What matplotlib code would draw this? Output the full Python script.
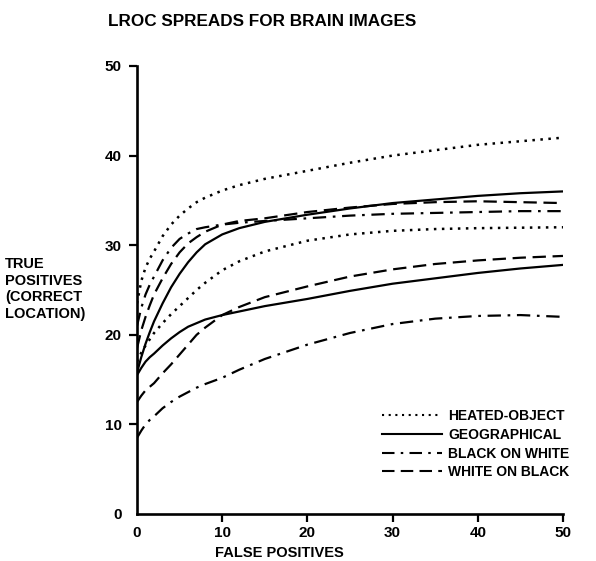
import matplotlib
matplotlib.use("Agg")
import matplotlib.pyplot as plt
from matplotlib.lines import Line2D

plt.rcParams['font.family'] = ['Liberation Sans', 'DejaVu Sans']
plt.rcParams['font.weight'] = 'bold'

fp = [0, 0.5, 1, 1.5, 2, 3, 4, 5, 6, 7, 8, 10, 12, 15, 20, 25, 30, 35, 40, 45, 50]

# true positives, upper and lower edge of each spread
heated_hi = [23.5, 26, 27.5, 28.5, 29.3, 31, 32.3, 33.3, 34.1, 34.8, 35.3, 36.1, 36.7, 37.4,
             38.3, 39.2, 40.0, 40.6, 41.2, 41.6, 42.0]
heated_lo = [17, 18, 18.8, 19.5, 20.2, 21.3, 22.3, 23.2, 24.1, 25, 25.8, 27.2, 28.2, 29.3,
             30.5, 31.2, 31.6, 31.8, 31.9, 31.95, 32.0]
geo_hi = [15.8, 17.5, 19, 20.3, 21.5, 23.5, 25.3, 26.8, 28.1, 29.2, 30.1, 31.2, 31.9, 32.6,
          33.4, 34.1, 34.7, 35.1, 35.5, 35.8, 36.0]
geo_lo = [15.5, 16.3, 17, 17.5, 17.9, 18.8, 19.6, 20.3, 20.9, 21.3, 21.7, 22.2, 22.6, 23.2,
          24.0, 24.9, 25.7, 26.3, 26.9, 27.4, 27.8]
bow_hi = [21, 23, 24.5, 25.6, 26.5, 28.3, 29.7, 30.7, 31.3, 31.8, 32.0, 32.3, 32.5, 32.7,
          33.0, 33.3, 33.5, 33.6, 33.7, 33.8, 33.8]
bow_lo = [8.5, 9.3, 10, 10.5, 10.9, 11.8, 12.5, 13.1, 13.6, 14.1, 14.5, 15.2, 16.1, 17.3,
          18.9, 20.2, 21.2, 21.8, 22.1, 22.2, 22.0]
wob_hi = [18.5, 20.5, 22, 23.3, 24.5, 26.3, 27.9, 29.2, 30.2, 30.9, 31.5, 32.3, 32.7, 33.0,
          33.7, 34.2, 34.6, 34.8, 34.9, 34.8, 34.7]
wob_lo = [12.5, 13.2, 13.8, 14.2, 14.6, 15.7, 16.7, 17.8, 18.9, 20, 20.8, 22.2, 23.1, 24.2,
          25.4, 26.5, 27.3, 27.9, 28.3, 28.6, 28.8]

labels = ["HEATED-OBJECT", "GEOGRAPHICAL", "BLACK ON WHITE", "WHITE ON BLACK"]
ticks = [0, 10, 20, 30, 40, 50]

dotted = (0, (1, 2.2))
solid = '-'
dashdot = (0, (6, 3, 1.2, 3))
dashed = (0, (6, 3))
styles = [dotted, solid, dashdot, dashed]

fig = plt.figure(figsize=(5.96, 5.61), dpi=100)
ax = fig.add_axes([0.2299, 0.0838, 0.7147, 0.7986])

pairs = [(heated_hi, heated_lo), (geo_hi, geo_lo), (bow_hi, bow_lo), (wob_hi, wob_lo)]
for (hi, lo), ls in zip(pairs, styles):
    lw = 1.8 if ls == dotted else 1.6
    ax.plot(fp, hi, color='black', linestyle=ls, lw=lw)
    ax.plot(fp, lo, color='black', linestyle=ls, lw=lw)

ax.set_xlim(0, 50)
ax.set_ylim(0, 50)
for s in ['top', 'right']:
    ax.spines[s].set_visible(False)
for s in ['left', 'bottom']:
    ax.spines[s].set_linewidth(1.9)

ax.set_xticks(ticks)
ax.set_yticks(ticks)
ax.set_xticklabels([str(t) for t in ticks], fontsize=11, fontweight='bold')
ax.set_yticklabels([str(t) for t in ticks], fontsize=11, fontweight='bold')
ax.tick_params(axis='both', length=6, width=1.6, direction='out')
ax.tick_params(axis='x', pad=3)
ax.tick_params(axis='y', pad=5)
ax.xaxis.get_major_ticks()[0].tick1line.set_visible(False)
ax.yaxis.get_major_ticks()[0].tick1line.set_visible(False)

handles = [Line2D([0], [0], color='black', linestyle=ls, lw=1.5) for ls in styles]
ax.legend(handles, labels, loc='lower right', bbox_to_anchor=(1.045, 0.05),
          frameon=False, handlelength=4.3, handletextpad=0.45, labelspacing=0.33,
          prop={'size': 10, 'weight': 'bold'})

fig.text(262 / 596, 1 - 22 / 561, "LROC SPREADS FOR BRAIN IMAGES", ha='center', va='center',
         fontsize=12.3, fontweight='bold')
fig.text(279 / 596, 1 - 553 / 561, "FALSE POSITIVES", ha='center', va='center',
         fontsize=10.5, fontweight='bold')
fig.text(5 / 596, 1 - 289 / 561, "TRUE\nPOSITIVES\n(CORRECT\nLOCATION)", ha='left', va='center',
         fontsize=10.5, fontweight='bold', linespacing=1.25)

fig.savefig("out.png", dpi=100)
